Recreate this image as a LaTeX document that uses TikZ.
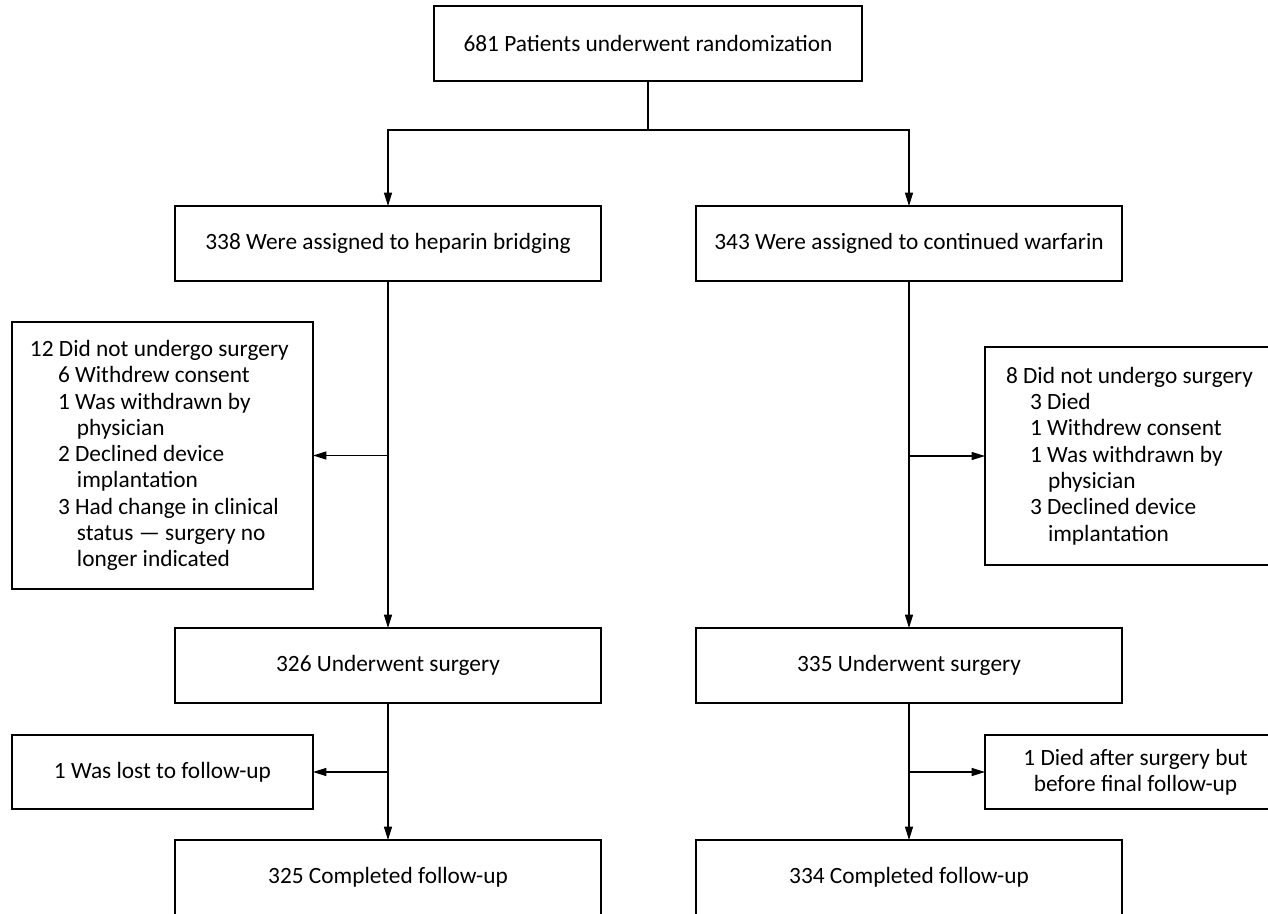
\documentclass[tikz,border=0pt]{standalone}
\usepackage{fontspec}
\setmainfont{Carlito}
\usetikzlibrary{arrows.meta}

\tikzset{
  box/.style={draw=black, line width=0.9pt, outer sep=0pt, inner sep=0pt,
    anchor=north west, align=center, font=\fontsize{17.5}{19.7}\selectfont},
  mainbox/.style={box, minimum width=319.5pt, minimum height=56.25pt},
  sidebox/.style={box, minimum width=225.75pt},
  listbox/.style={sidebox, align=flush left},
  link/.style={line width=0.9pt, draw=black},
  arr/.style={link, -{Triangle[length=10pt,width=6pt]}},
}

\begin{document}
\begin{tikzpicture}[x=0.75pt, y=-0.75pt]
  \useasboundingbox (0,0) rectangle (1268,914);
  \clip (0,0) rectangle (1268,914);
  \fill[white] (0,0) rectangle (1268,914);

  % randomization and allocation
  \node[mainbox, minimum width=321pt] (rand) at (434,6) {681 Patients underwent randomization};
  \node[mainbox] (hep) at (175,206) {338 Were assigned to heparin bridging};
  \node[mainbox] (war) at (696,206) {343 Were assigned to continued warfarin};

  % exclusions before surgery
  \node[listbox, minimum height=200.25pt, text width=198.75pt, inner xsep=13.5pt] (hepx) at (12,322) {%
    12 Did not undergo surgery\\
    \hspace*{21pt}6 Withdrew consent\\
    \hspace*{21pt}1 Was withdrawn by\\
    \hspace*{35.25pt}physician\\
    \hspace*{21pt}2 Declined device\\
    \hspace*{35.25pt}implantation\\
    \hspace*{21pt}3 Had change in clinical\\
    \hspace*{35.25pt}status --- surgery no\\
    \hspace*{35.25pt}longer indicated};
  \node[listbox, minimum height=163.5pt, text width=194.25pt, inner xsep=15.75pt] (warx) at (985,347) {%
    8 Did not undergo surgery\\
    \hspace*{18pt}3 Died\\
    \hspace*{18pt}1 Withdrew consent\\
    \hspace*{18pt}1 Was withdrawn by\\
    \hspace*{31.5pt}physician\\
    \hspace*{18pt}3 Declined device\\
    \hspace*{31.5pt}implantation};

  % surgery
  \node[mainbox] (hepsurg) at (175,628) {326 Underwent surgery};
  \node[mainbox] (warsurg) at (696,628) {335 Underwent surgery};

  % losses after surgery
  \node[sidebox, minimum height=55.5pt] (heplost) at (12,735) {1 Was lost to follow-up};
  \node[sidebox, minimum height=55.5pt] (wardied) at (985,735) {1 Died after surgery but\\before final follow-up};

  % follow-up
  \node[mainbox] (hepfu) at (175,840) {325 Completed follow-up};
  \node[mainbox] (warfu) at (696,840) {334 Completed follow-up};

  % connectors
  \coordinate (split) at (rand.south |- 0,130);
  \draw[link] (rand.south) -- (split);
  \draw[arr] (split) -| (hep.north);
  \draw[arr] (split) -| (war.north);

  \draw[arr] (hep.south) -- (hepsurg.north);
  \draw[arr] (war.south) -- (warsurg.north);
  \draw[arr] (hep.south |- hepx.east) -- (hepx.east);
  \draw[arr] (war.south |- warx.west) -- (warx.west);

  \draw[arr] (hepsurg.south) -- (hepfu.north);
  \draw[arr] (warsurg.south) -- (warfu.north);
  \draw[arr] (hepsurg.south |- heplost.east) -- (heplost.east);
  \draw[arr] (warsurg.south |- wardied.west) -- (wardied.west);
\end{tikzpicture}
\end{document}
